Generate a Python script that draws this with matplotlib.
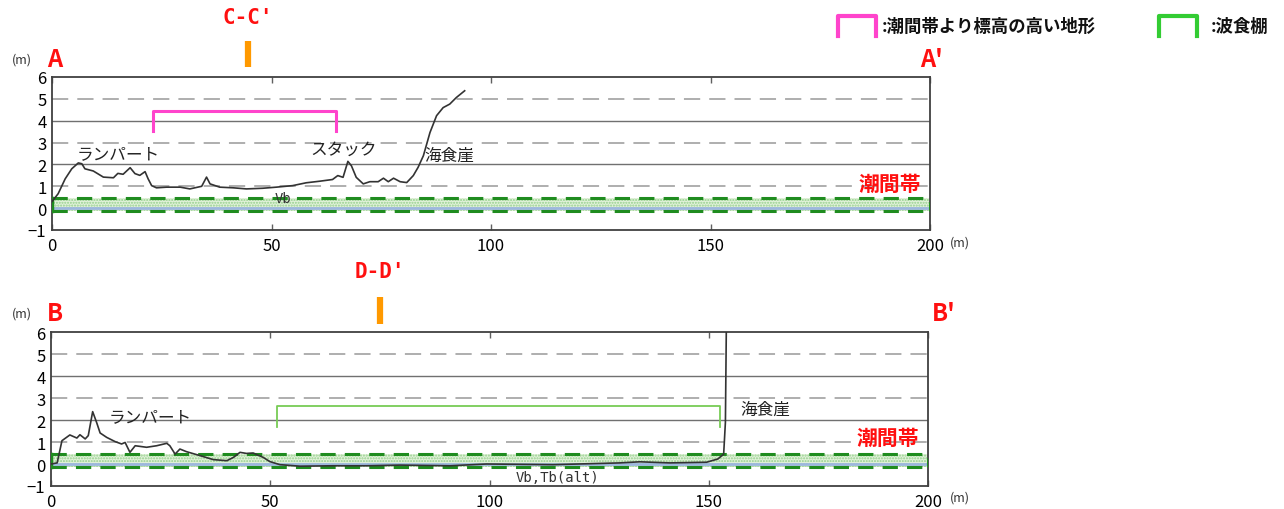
import matplotlib
matplotlib.use('Agg')
import matplotlib.pyplot as plt

plt.rcParams['font.family'] = ['Noto Sans CJK JP', 'DejaVu Sans']

# profile A-A' (distance m, elevation m)
dist_a = [0, 1.4, 3.0, 4.5, 6.0, 6.8, 7.5, 9.4, 11.7, 14.0, 15.0, 16.2, 17.8, 18.9,
          20.0, 21.2, 21.9, 22.7, 23.8, 26.1, 29.2, 31.4, 34.1, 35.2, 36.0, 38.2,
          41.3, 44.3, 48.0, 51.1, 54.8, 57.9, 60.9, 63.9, 65.1, 66.3, 67.4, 68.2,
          69.3, 70.9, 72.4, 74.3, 75.5, 76.6, 77.8, 79.3, 80.8, 82.3, 83.4, 84.6,
          86.1, 87.6, 89.1, 90.6, 92.1, 94.0]
elev_a = [0.3, 0.66, 1.34, 1.8, 2.07, 2.03, 1.8, 1.7, 1.42, 1.39, 1.59, 1.55, 1.85, 1.58,
          1.5, 1.67, 1.34, 1.03, 0.93, 0.96, 0.96, 0.88, 1.0, 1.42, 1.11, 0.96,
          0.93, 0.88, 0.91, 0.96, 1.03, 1.16, 1.23, 1.31, 1.49, 1.41, 2.14, 1.94,
          1.41, 1.11, 1.21, 1.21, 1.37, 1.21, 1.37, 1.21, 1.17, 1.49, 1.87, 2.4,
          3.46, 4.23, 4.6, 4.76, 5.06, 5.37]

# profile B-B'
dist_b = [0, 1.4, 2.5, 4.3, 5.9, 6.6, 7.8, 8.5, 9.5, 10.4, 11.2, 12.7, 14.6, 16.1,
          16.9, 18.0, 19.2, 21.8, 24.1, 26.4, 27.1, 28.3, 29.4, 30.9, 34.0, 37.0,
          40.1, 41.6, 43.1, 44.6, 46.1, 48.4, 49.9, 52.2, 56.8, 64.4, 72.0, 79.6,
          91.0, 99.3, 114.5, 129.7, 134.3, 141.1, 149.5, 152.1, 153.4, 153.8, 154.0, 154.1]
elev_b = [0.0, 0.05, 1.06, 1.32, 1.18, 1.33, 1.14, 1.29, 2.38, 1.89, 1.41, 1.21, 1.02, 0.91,
          0.98, 0.53, 0.83, 0.76, 0.83, 0.94, 0.83, 0.45, 0.68, 0.56, 0.38, 0.2,
          0.15, 0.3, 0.53, 0.48, 0.5, 0.3, 0.11, -0.03, -0.1, -0.08, -0.08, -0.05,
          -0.08, 0.0, -0.03, 0.05, 0.1, 0.05, 0.08, 0.23, 0.45, 1.9, 6.0, 7.0]

# intertidal zone, brackets, section marks
tide_low, tide_high = -0.15, 0.45
high_ground_a = [23.0, 64.8]   # magenta bracket
bench_b = [51.5, 152.6]        # green bracket
cross_a = 44.6                 # C-C'
cross_b = 75.0                 # D-D'

xticks = [0, 50, 100, 150, 200]
yticks = [-1, 0, 1, 2, 3, 4, 5, 6]

W, H = 1284, 510
fig = plt.figure(figsize=(W / 100, H / 100), dpi=100)


def fx(px):
    return px / W


def fy(py):
    return 1 - py / H


def setup(ax):
    ax.set_xlim(0, 200)
    ax.set_ylim(-1, 6)
    for y in [1, 3, 5]:
        ax.axhline(y, color='#a8a8a8', lw=1.3, dashes=(9, 5), zorder=1)
    for y in [2, 4]:
        ax.axhline(y, color='#707070', lw=1.0, zorder=1)
    # intertidal band
    ax.fill_between([0, 200], tide_low, tide_high, facecolor='#e2f2da',
                    edgecolor='#94cf8c', hatch='......', linewidth=0, zorder=2)
    ax.axhline(0, color='#9db7de', lw=2.0, zorder=2)
    for y in [tide_low, tide_high]:
        ax.plot([0, 200], [y, y], color='#1f8c1f', lw=2.2, dashes=(5, 3), zorder=3)
    ax.plot([0, 0], [tide_low, tide_high], color='#1f8c1f', lw=2.5, zorder=3)
    ax.plot([200, 200], [tide_low, tide_high], color='#1f8c1f', lw=2.2, dashes=(3, 2), zorder=3)
    ax.set_xticks(xticks)
    ax.set_yticks(yticks)
    ax.tick_params(axis='x', direction='in', top=True, bottom=True, length=4,
                   width=1, color='#606060', labelsize=12, pad=5)
    ax.tick_params(axis='y', length=0, labelsize=12, pad=4)
    for s in ax.spines.values():
        s.set_color('#404040')
        s.set_linewidth(1.3)


ax1 = fig.add_axes([fx(52), fy(231), 878 / W, 153 / H])
ax2 = fig.add_axes([fx(51), fy(487), 877 / W, 154 / H])
setup(ax1)
setup(ax2)

ax1.plot(dist_a, elev_a, color='#333333', lw=1.2, zorder=4)
ax2.plot(dist_b, elev_b, color='#333333', lw=1.2, zorder=4)

# brackets in the plots
ax1.plot([high_ground_a[0], high_ground_a[0], high_ground_a[1], high_ground_a[1]],
         [3.55, 4.45, 4.45, 3.55], color='#ff44cc', lw=2.2, zorder=5)
ax2.plot([bench_b[0], bench_b[0], bench_b[1], bench_b[1]],
         [1.7, 2.62, 2.62, 1.7], color='#77cc55', lw=1.3, zorder=5)

# section markers above the plots
ax1.plot([cross_a, cross_a], [6.45, 7.65], color='#ff9900', lw=4.5,
         solid_capstyle='butt', clip_on=False)
ax2.plot([cross_b, cross_b], [6.36, 7.6], color='#ff9900', lw=4.5,
         solid_capstyle='butt', clip_on=False)

red = '#ff1010'
fig.text(fx(248), fy(18), "C-C'", color=red, fontsize=15, fontweight='bold',
         ha='center', va='center', family='DejaVu Sans Mono')
fig.text(fx(380), fy(272), "D-D'", color=red, fontsize=15, fontweight='bold',
         ha='center', va='center', family='DejaVu Sans Mono')
fig.text(fx(47), fy(60), 'A', color=red, fontsize=17, fontweight='bold', va='center')
fig.text(fx(920), fy(60), "A'", color=red, fontsize=17, fontweight='bold', va='center')
fig.text(fx(47), fy(314), 'B', color=red, fontsize=17, fontweight='bold', va='center')
fig.text(fx(932), fy(314), "B'", color=red, fontsize=17, fontweight='bold', va='center')

for yy in [60, 314]:
    fig.text(fx(22), fy(yy), '(m)', fontsize=9, ha='center', va='center', color='#333333')
for yy in [243, 498]:
    fig.text(fx(960), fy(yy), '(m)', fontsize=9, ha='center', va='center', color='#333333')

# annotations
txt = '#222222'
ax1.text(15.0, 2.5, 'ランパート', fontsize=12, ha='center', va='center', color=txt)
ax1.text(66.5, 2.7, 'スタック', fontsize=12, ha='center', va='center', color=txt)
ax1.text(90.5, 2.4, '海食崖', fontsize=12, ha='center', va='center', color=txt)
ax1.text(52.6, 0.45, 'Vb', fontsize=10, ha='center', va='center', color='#333333',
         family='DejaVu Sans Mono', zorder=6)
ax1.text(198, 1.15, '潮間帯', fontsize=15, fontweight='bold', ha='right', va='center', color=red)

ax2.text(22.6, 2.15, 'ランパート', fontsize=12, ha='center', va='center', color=txt)
ax2.text(163, 2.5, '海食崖', fontsize=12, ha='center', va='center', color=txt)
ax2.text(115.4, -0.6, 'Vb,Tb(alt)', fontsize=10, ha='center', va='center', color='#333333',
         family='DejaVu Sans Mono')
ax2.text(198, 1.2, '潮間帯', fontsize=15, fontweight='bold', ha='right', va='center', color=red)

# legend
fig.add_artist(plt.Line2D([fx(838), fx(838), fx(876), fx(876)], [fy(37), fy(17), fy(17), fy(37)],
                          color='#ff44cc', lw=3, transform=fig.transFigure))
fig.text(fx(882), fy(27), ':潮間帯より標高の高い地形', fontsize=12.5, fontweight='bold',
         va='center', color='#111111')
fig.add_artist(plt.Line2D([fx(1159), fx(1159), fx(1197), fx(1197)], [fy(37), fy(17), fy(17), fy(37)],
                          color='#33cc33', lw=3, transform=fig.transFigure))
fig.text(fx(1211), fy(27), ':波食棚', fontsize=12.5, fontweight='bold',
         va='center', color='#111111')

fig.savefig('out.png', dpi=100)
